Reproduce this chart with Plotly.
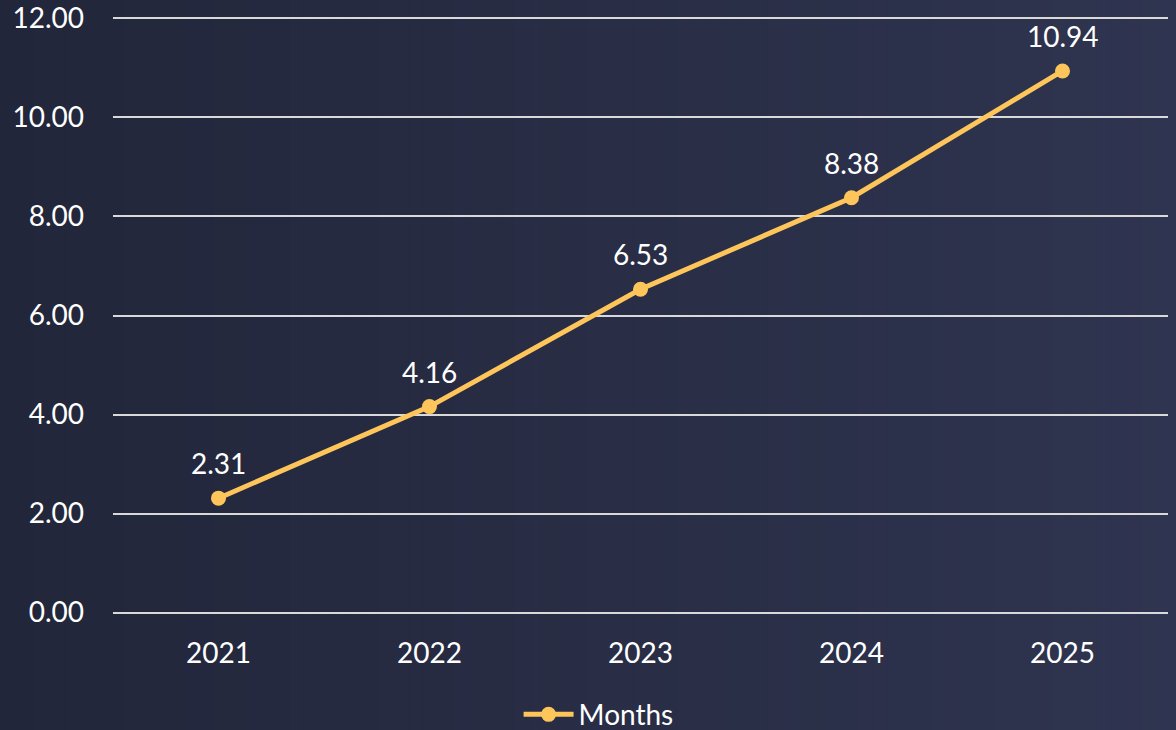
import plotly.graph_objects as go

years = ["2021", "2022", "2023", "2024", "2025"]
months = [2.31, 4.16, 6.53, 8.38, 10.94]
y_ticks = [0, 2, 4, 6, 8, 10, 12]
y_tick_labels = ["0.00", "2.00", "4.00", "6.00", "8.00", "10.00", "12.00"]

W, H = 1176, 730
L, R, T, B = 113, 8, 16, 115
pw, ph = W - L - R, H - T - B

FONT = "Lato"
FS = 28
LINE_COLOR = "#FDC55A"

fig = go.Figure()
fig.add_trace(go.Scatter(
    x=years, y=months, name="Months",
    mode="lines+markers",
    line=dict(color=LINE_COLOR, width=5),
    marker=dict(color=LINE_COLOR, size=15),
    cliponaxis=False,
))

# data labels (category axis: annotation x given as category index)
for i, v in enumerate(months):
    fig.add_annotation(x=i, y=v, xref="x", yref="y", text=f"{v:.2f}",
                       showarrow=False, yshift=35,
                       font=dict(color="white", size=FS, family=FONT))

# background gradient (left darker, right lighter)
shapes = []
n = 80
c0 = (34, 38, 58)
c1 = (47, 52, 80)
x_start = -L / pw - 0.01
x_end = 1 + R / pw + 0.01
for k in range(n):
    t = k / (n - 1)
    col = tuple(round(a + (b - a) * t) for a, b in zip(c0, c1))
    xa = x_start + (x_end - x_start) * k / n
    xb = x_start + (x_end - x_start) * (k + 1) / n + 0.002
    shapes.append(dict(type="rect", xref="paper", yref="paper",
                       x0=xa, x1=xb, y0=-B / ph - 0.03, y1=1 + T / ph + 0.03,
                       fillcolor=f"rgb{col}", line=dict(width=0), layer="below"))

fig.update_layout(
    width=W, height=H,
    margin=dict(l=L, r=R, t=T, b=B, autoexpand=False),
    paper_bgcolor="rgb(40,44,68)",
    plot_bgcolor="rgba(0,0,0,0)",
    shapes=shapes,
    font=dict(family=FONT, color="white", size=FS),
    showlegend=True,
    legend=dict(orientation="h", xref="container", yref="container",
                x=0.509, xanchor="center", y=0.021, yanchor="middle",
                font=dict(size=FS, color="white", family=FONT),
                bgcolor="rgba(0,0,0,0)", itemwidth=50),
    xaxis=dict(type="category", range=[-0.5, 4.5], showgrid=False, zeroline=False,
               showline=False, ticks="", tickfont=dict(size=FS, color="white"),
               ticklabelstandoff=19),
    yaxis=dict(range=[-0.05, 12.05], tickvals=y_ticks, ticktext=y_tick_labels,
               showgrid=True, gridcolor="#D9D9D9", gridwidth=2,
               zeroline=True, zerolinecolor="#D9D9D9", zerolinewidth=2,
               showline=False, ticks="",
               tickfont=dict(size=FS, color="white"), ticklabelstandoff=28),
)

fig.write_html("out.html", config={"displayModeBar": False},
               post_script="document.body.style.margin='0';document.body.style.overflow='hidden';")
